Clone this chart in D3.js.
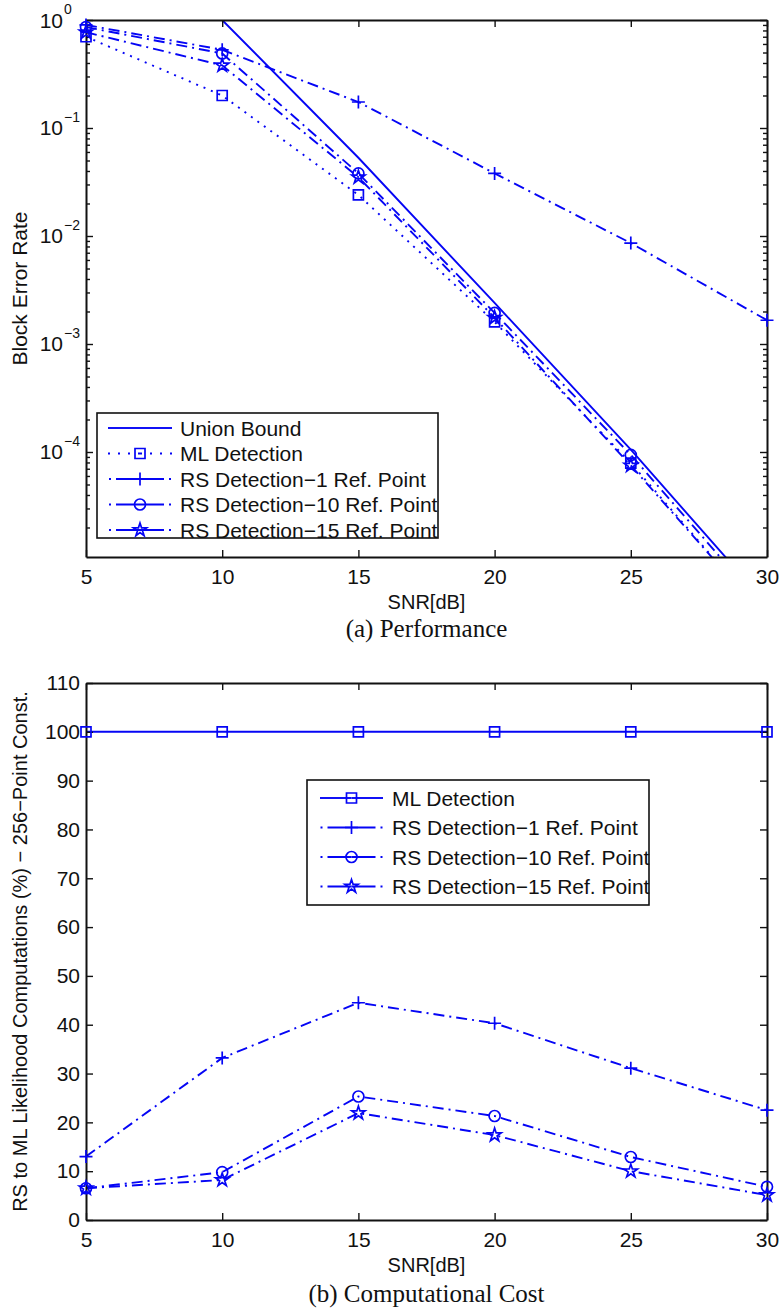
<!DOCTYPE html>
<html>
<head>
<meta charset="utf-8">
<script src="https://cdn.jsdelivr.net/npm/d3@7"></script>
<style>
  body { margin: 0; background: #fff; }
  svg { display: block; }
  text { font-family: "Liberation Sans", Arial, Helvetica, sans-serif; fill: #111; }
  .caption { font-family: "Liberation Serif", "Times New Roman", serif; }
</style>
</head>
<body>
<script>
// ---- data -------------------------------------------------------------
// SNR grid (dB) shared by both panels
const snr = [5, 10, 15, 20, 25, 30];

// (a) block error rate
const berUnion = [1, 1, 0.053, 2.4e-3, 1.05e-4, 3.9e-6];
const berML    = [0.70, 0.20, 0.024, 1.6e-3, 7.9e-5, 2.8e-6];
const berRS1   = [0.90, 0.53, 0.174, 0.038, 8.6e-3, 1.66e-3];
const berRS10  = [0.86, 0.49, 0.038, 1.94e-3, 9.4e-5, 3.4e-6];
const berRS15  = [0.77, 0.38, 0.035, 1.75e-3, 7.5e-5, 2.8e-6];

// (b) RS likelihood computations relative to ML (%)
const costML   = [100, 100, 100, 100, 100, 100];
const costRS1  = [13.0, 33.2, 44.5, 40.3, 31.1, 22.5];
const costRS10 = [6.5, 9.8, 25.3, 21.3, 12.9, 6.8];
const costRS15 = [6.5, 8.2, 21.9, 17.4, 10.0, 5.1];

// tick values and labels
const snrTicks = [5, 10, 15, 20, 25, 30];
const berTickExponents = [0, -1, -2, -3, -4];
const costTicks = [0, 10, 20, 30, 40, 50, 60, 70, 80, 90, 100, 110];

const namesA = ["Union Bound", "ML Detection", "RS Detection\u22121 Ref. Point",
                "RS Detection\u221210 Ref. Point", "RS Detection\u221215 Ref. Point"];
const namesB = ["ML Detection", "RS Detection\u22121 Ref. Point",
                "RS Detection\u221210 Ref. Point", "RS Detection\u221215 Ref. Point"];

// ---- styling ----------------------------------------------------------
const W = 781, H = 1312;
const BLUE = "#0505f5";
const INK = "#111";
const DASH = { solid: null, dotted: "2,6", dashdot: "11,5,2,5" };
// legend samples are drawn from the marker outwards, so the pattern
// reads "dot, dash, marker, dash, dot"
const LEGEND_DASH = { solid: null, dotted: "2,8", dashdot: "24,5,2,40" };

const seriesA = [
  { name: namesA[0], values: berUnion, line: "solid",   mark: null },
  { name: namesA[1], values: berML,    line: "dotted",  mark: "square" },
  { name: namesA[2], values: berRS1,   line: "dashdot", mark: "plus" },
  { name: namesA[3], values: berRS10,  line: "dashdot", mark: "circle" },
  { name: namesA[4], values: berRS15,  line: "dashdot", mark: "star" }
];
const seriesB = [
  { name: namesB[0], values: costML,   line: "solid",   mark: "square" },
  { name: namesB[1], values: costRS1,  line: "dashdot", mark: "plus" },
  { name: namesB[2], values: costRS10, line: "dashdot", mark: "circle" },
  { name: namesB[3], values: costRS15, line: "dashdot", mark: "star" }
];

const svg = d3.select("body").append("svg").attr("width", W).attr("height", H);

function drawMarker(g, kind, cx, cy) {
  let d;
  if (kind === "square") d = d3.symbol(d3.symbolSquare, 100)();
  else if (kind === "circle") d = d3.symbol(d3.symbolCircle, Math.PI * 5.5 * 5.5)();
  else if (kind === "star") d = d3.symbol(d3.symbolStar, 55)();
  else d = "M-6.5,0H6.5M0,-6.5V6.5";
  g.append("path")
    .attr("d", d)
    .attr("transform", `translate(${cx},${cy})`)
    .attr("fill", "none")
    .attr("stroke", BLUE)
    .attr("stroke-width", 1.7);
}

function styleAxis(sel) {
  sel.select(".domain").attr("stroke", INK).attr("stroke-width", 2);
  sel.selectAll(".tick line").attr("stroke", INK).attr("stroke-width", 1.4);
  sel.selectAll(".tick text").attr("font-size", 21).attr("fill", INK)
    .attr("font-family", "'Liberation Sans', Arial, sans-serif");
}

function drawPanel(id, x, y, series, yTicks, yMinor) {
  const [xl, xr] = x.range();
  const [yb, yt] = y.range();
  const g = svg.append("g");

  g.append("clipPath").attr("id", id)
    .append("rect").attr("x", xl).attr("y", yt).attr("width", xr - xl).attr("height", yb - yt);

  const inside = v => v >= y.domain()[0] && v <= y.domain()[1];
  const line = d3.line().x(d => x(d[0])).y(d => y(d[1]));

  series.forEach(s => {
    const pts = snr.map((d, i) => [d, s.values[i]]);
    g.append("path")
      .datum(pts)
      .attr("d", line)
      .attr("clip-path", `url(#${id})`)
      .attr("fill", "none")
      .attr("stroke", BLUE)
      .attr("stroke-width", 1.9)
      .attr("stroke-dasharray", DASH[s.line]);
  });

  // frame with inward ticks on all four sides
  const bottom = g.append("g").attr("transform", `translate(0,${yb})`)
    .call(d3.axisBottom(x).tickValues(snrTicks).tickSizeInner(-7).tickSizeOuter(0).tickPadding(12));
  const top = g.append("g").attr("transform", `translate(0,${yt})`)
    .call(d3.axisTop(x).tickValues(snrTicks).tickSizeInner(-7).tickSizeOuter(0).tickFormat(""));
  [bottom, top].forEach(styleAxis);

  const left = g.append("g").attr("transform", `translate(${xl},0)`)
    .call(d3.axisLeft(y).tickValues(yTicks.values).tickSizeInner(-7).tickSizeOuter(0)
      .tickPadding(6).tickFormat(yTicks.format));
  const right = g.append("g").attr("transform", `translate(${xr},0)`)
    .call(d3.axisRight(y).tickValues(yTicks.values).tickSizeInner(-7).tickSizeOuter(0).tickFormat(""));
  [left, right].forEach(styleAxis);

  if (yMinor) {
    const l2 = g.append("g").attr("transform", `translate(${xl},0)`)
      .call(d3.axisLeft(y).tickValues(yMinor).tickSizeInner(-4).tickSizeOuter(0).tickFormat(""));
    const r2 = g.append("g").attr("transform", `translate(${xr},0)`)
      .call(d3.axisRight(y).tickValues(yMinor).tickSizeInner(-4).tickSizeOuter(0).tickFormat(""));
    [l2, r2].forEach(a => { styleAxis(a); a.select(".domain").remove(); });
  }

  // markers at every sample that lies within the axis limits
  series.forEach(s => {
    if (!s.mark) return;
    snr.forEach((d, i) => {
      if (inside(s.values[i])) drawMarker(g, s.mark, x(d), y(s.values[i]));
    });
  });
  return g;
}

function drawLegend(series, box, row0, step, sx0, sx1, textX) {
  const g = svg.append("g");
  g.append("rect")
    .attr("x", box[0]).attr("y", box[1]).attr("width", box[2]).attr("height", box[3])
    .attr("fill", "#fff").attr("stroke", INK).attr("stroke-width", 1.6);
  const mid = (sx0 + sx1) / 2;
  series.forEach((s, i) => {
    const cy = row0 + i * step;
    [sx0, sx1].forEach(end => {
      g.append("path")
        .attr("d", `M${mid},${cy}H${end}`)
        .attr("fill", "none")
        .attr("stroke", BLUE)
        .attr("stroke-width", 1.9)
        .attr("stroke-dasharray", LEGEND_DASH[s.line]);
    });
    if (s.mark) drawMarker(g, s.mark, mid, cy);
    g.append("text")
      .attr("x", textX).attr("y", cy + 7.5)
      .attr("font-size", 21)
      .text(s.name);
  });
}

// ---- (a) Performance --------------------------------------------------
const xA = d3.scaleLinear().domain([5, 30]).range([86, 767]);
const yA = d3.scaleLog().domain([1.066e-5, 1]).range([557, 20]);

const berMajor = berTickExponents.map(e => Math.pow(10, e));
const berMinor = [];
for (let e = -5; e < 0; e++) {
  for (let k = 2; k <= 9; k++) {
    const v = k * Math.pow(10, e);
    if (v >= yA.domain()[0] && v <= yA.domain()[1]) berMinor.push(v);
  }
}

drawPanel("clipA", xA, yA, seriesA, { values: berMajor, format: "" }, berMinor);

// power-of-ten labels
const powLabels = svg.append("g");
berTickExponents.forEach(e => {
  const yy = yA(Math.pow(10, e));
  powLabels.append("text").attr("x", 63).attr("y", yy + 7.5)
    .attr("text-anchor", "end").attr("font-size", 21).text("10");
  powLabels.append("text").attr("x", 64).attr("y", yy - 6)
    .attr("font-size", 14).text(e === 0 ? "0" : "\u2212" + Math.abs(e));
});

svg.append("text")
  .attr("transform", `translate(27,${(557 + 20) / 2}) rotate(-90)`)
  .attr("text-anchor", "middle").attr("font-size", 21)
  .text("Block Error Rate");
svg.append("text").attr("x", 426.5).attr("y", 609)
  .attr("text-anchor", "middle").attr("font-size", 20).text("SNR[dB]");
svg.append("text").attr("class", "caption").attr("x", 426.5).attr("y", 637)
  .attr("text-anchor", "middle").attr("font-size", 25).text("(a)  Performance");

drawLegend(seriesA, [97, 413, 341, 125], 428, 25.5, 108, 172, 180);

// ---- (b) Computational Cost -------------------------------------------
const xB = d3.scaleLinear().domain([5, 30]).range([86, 767]);
const yB = d3.scaleLinear().domain([0, 110]).range([1220, 683]);

drawPanel("clipB", xB, yB, seriesB, { values: costTicks, format: d3.format("d") }, null);

svg.append("text")
  .attr("transform", `translate(27,${(1220 + 683) / 2}) rotate(-90)`)
  .attr("text-anchor", "middle").attr("font-size", 20)
  .text("RS to ML Likelihood Computations (%) \u2212 256\u2212Point Const.");
svg.append("text").attr("x", 426.5).attr("y", 1272)
  .attr("text-anchor", "middle").attr("font-size", 20).text("SNR[dB]");
svg.append("text").attr("class", "caption").attr("x", 426.5).attr("y", 1302)
  .attr("text-anchor", "middle").attr("font-size", 25).text("(b)  Computational  Cost");

drawLegend(seriesB, [307, 780, 342, 125], 798, 29.5, 320, 383, 392);
</script>
</body>
</html>
